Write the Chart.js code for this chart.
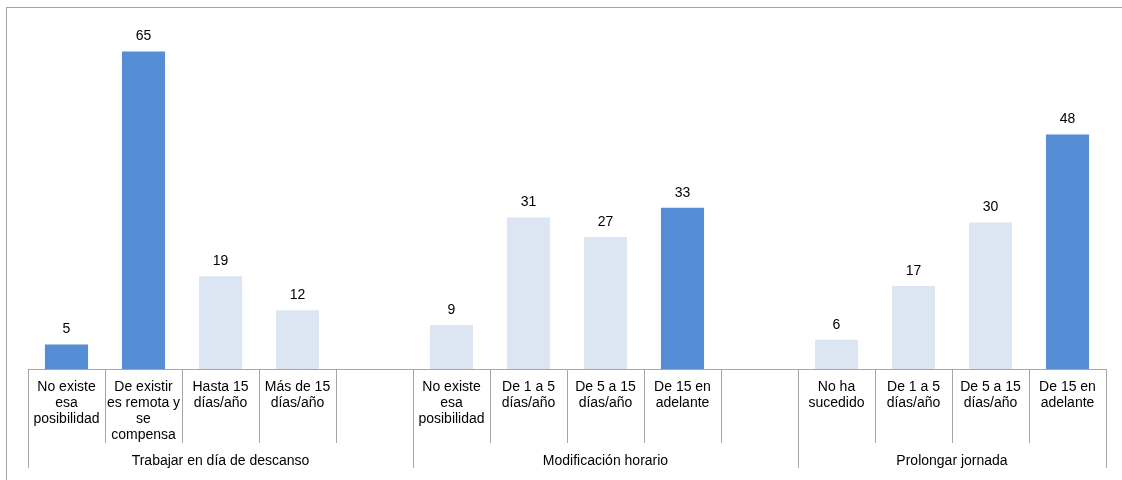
<!doctype html>
<html lang="es">
  <head>
    <meta charset="utf-8">
    <title>Compensación</title>
    <script src="https://cdn.jsdelivr.net/npm/chart.js@4.4.1/dist/chart.umd.min.js"></script>
    <style>
      html, body { margin: 0; padding: 0; background: #fff; overflow: hidden; }
      #frame {
        position: absolute; left: 6px; top: 7px; width: 1140px; height: 490px;
        border-left: 1.5px solid #a6a6a6; border-top: 1.5px solid #a6a6a6;
      }
      #wrap { position: absolute; left: 0; top: 0; width: 1122px; height: 480px; }
    </style>
  </head>
  <body>
    <div id="frame"></div>
    <div id="wrap"><canvas id="myBarChart"></canvas></div>

    <script>
      // categories (empty strings are the gaps between groups)
      var categories = [
        ['No existe', 'esa', 'posibilidad'],
        ['De existir', 'es remota y', 'se', 'compensa'],
        ['Hasta 15', 'días/año'],
        ['Más de 15', 'días/año'],
        '',
        ['No existe', 'esa', 'posibilidad'],
        ['De 1 a 5', 'días/año'],
        ['De 5 a 15', 'días/año'],
        ['De 15 en', 'adelante'],
        '',
        ['No ha', 'sucedido'],
        ['De 1 a 5', 'días/año'],
        ['De 5 a 15', 'días/año'],
        ['De 15 en', 'adelante']
      ];
      var values = [5, 65, 19, 12, null, 9, 31, 27, 33, null, 6, 17, 30, 48];
      var highlight = [true, true, false, false, false, false, false, false, true, false, false, false, false, true];

      // groups: label, first index, last index (inclusive)
      var groupNames = ['Trabajar en día de descanso', 'Modificación horario', 'Prolongar jornada'];
      var groupStart = [0, 5, 10];
      var groupEnd = [4, 9, 13];

      var darkBlue = '#558ed5';
      var lightBlue = '#dce6f2';
      var lineGray = '#a6a6a6';
      var fontFamily = '"Liberation Sans", Arial, sans-serif';

      // value labels above bars
      var valueLabels = {
        id: 'valueLabels',
        afterDatasetsDraw: function(chart) {
          var ctx = chart.ctx;
          var meta = chart.getDatasetMeta(0);
          ctx.save();
          ctx.font = '14px ' + fontFamily;
          ctx.fillStyle = '#000';
          ctx.textAlign = 'center';
          ctx.textBaseline = 'middle';
          meta.data.forEach(function(bar, i) {
            if (values[i] == null) return;
            ctx.fillText(values[i], bar.x, bar.y - 15);
          });
          ctx.restore();
        }
      };

      // group separators and group names under the category labels
      var groupAxis = {
        id: 'groupAxis',
        afterDraw: function(chart) {
          var ctx = chart.ctx;
          var x = chart.scales.x;
          var top = x.top;
          ctx.save();
          ctx.strokeStyle = lineGray;
          ctx.lineWidth = 1;
          ctx.font = '14px ' + fontFamily;
          ctx.fillStyle = '#000';
          ctx.textAlign = 'center';
          ctx.textBaseline = 'middle';
          for (var g = 0; g < groupNames.length; g++) {
            var left = x.getPixelForValue(groupStart[g] - 0.5);
            var right = x.getPixelForValue(groupEnd[g] + 0.5);
            [left, right].forEach(function(px) {
              var p = Math.round(px) + 0.5;
              ctx.beginPath();
              ctx.moveTo(p, top);
              ctx.lineTo(p, top + 99);
              ctx.stroke();
            });
            ctx.fillText(groupNames[g], (left + right) / 2, top + 92);
          }
          ctx.restore();
        }
      };

      var ctx = document.getElementById('myBarChart').getContext('2d');
      var chart = new Chart(ctx, {
        type: 'bar',
        data: {
          labels: categories,
          datasets: [{
            data: values,
            backgroundColor: highlight.map(function(h) { return h ? darkBlue : lightBlue; }),
            borderWidth: 0,
            barPercentage: 0.56,
            categoryPercentage: 1
          }]
        },
        options: {
          responsive: true,
          maintainAspectRatio: false,
          animation: false,
          layout: {
            padding: { left: 28, right: 16, top: 27, bottom: 0 }
          },
          plugins: {
            legend: { display: false },
            tooltip: { enabled: false }
          },
          scales: {
            x: {
              offset: true,
              grid: {
                offset: true,
                drawOnChartArea: false,
                drawTicks: true,
                tickLength: 74,
                color: lineGray,
                lineWidth: 1
              },
              border: { display: true, color: lineGray, width: 1 },
              ticks: {
                autoSkip: false,
                maxRotation: 0,
                minRotation: 0,
                padding: -64,
                color: '#000',
                font: { family: fontFamily, size: 14, lineHeight: 1.15 }
              },
              afterFit: function(scale) { scale.height = 111; }
            },
            y: {
              display: false,
              min: 0,
              max: 70
            }
          }
        },
        plugins: [valueLabels, groupAxis]
      });
    </script>
  </body>
</html>
